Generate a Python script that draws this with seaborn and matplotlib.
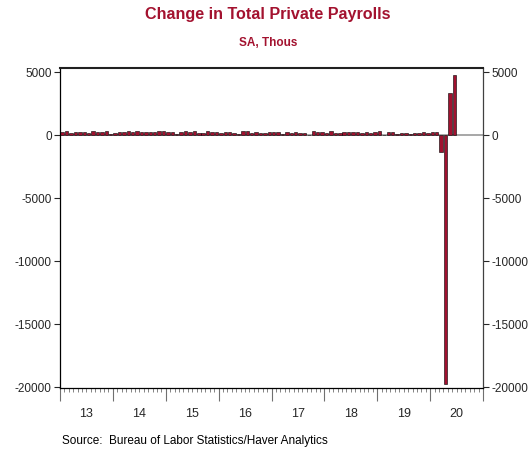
import numpy as np
import pandas as pd
import matplotlib
matplotlib.use("Agg")
import matplotlib.pyplot as plt
import seaborn as sns
from matplotlib.ticker import FixedLocator, FixedFormatter

# monthly change in private payrolls, thousands (Jan 2013 - Jun 2020)
vals_2013 = [190, 286, 130, 194, 212, 202, 140, 261, 192, 223, 270, 69]
vals_2014 = [173, 190, 221, 329, 231, 290, 236, 204, 255, 257, 324, 264]
vals_2015 = [196, 256, 84, 247, 321, 200, 262, 149, 162, 298, 233, 256]
vals_2016 = [127, 220, 207, 160, 33, 271, 279, 124, 223, 124, 156, 185]
vals_2017 = [207, 213, 86, 186, 143, 201, 179, 174, 19, 264, 212, 183]
vals_2018 = [175, 311, 164, 178, 257, 224, 188, 214, 114, 248, 172, 225]
vals_2019 = [298, 15, 183, 220, 81, 166, 146, 98, 143, 171, 224, 127]
vals_2020 = [206, 245, -1360, -19800, 3280, 4780]

year_labels = ["13", "14", "15", "16", "17", "18", "19", "20"]
y_ticks = [5000, 0, -5000, -10000, -15000, -20000]

values = (vals_2013 + vals_2014 + vals_2015 + vals_2016 + vals_2017
          + vals_2018 + vals_2019 + vals_2020)
months = pd.date_range("2013-01-01", periods=len(values), freq="MS").strftime("%Y-%m")
df = pd.DataFrame({"month": months, "change": values})

sns.set_style("white")
plt.rcParams["font.family"] = ["Liberation Sans", "DejaVu Sans"]

fig = plt.figure(figsize=(5.29, 4.52), dpi=100)
ax = fig.add_axes([60 / 529, 1 - 389 / 452, 423 / 529, 320 / 452])

red = "#a0112f"
sns.barplot(data=df, x="month", y="change", color=red, edgecolor="black",
            linewidth=0.4, width=0.78, saturation=1, ax=ax)
ax.axhline(0, color="#a0a0a0", lw=1.3, zorder=0)

n_months = 12 * len(year_labels)
ax.set_xlim(-0.5, n_months - 0.5)
ax.set_ylim(-20100, 5300)

# year boundaries = major ticks, months = minor ticks, year labels mid-year
major = [-0.5 + 12 * k for k in range(len(year_labels) + 1)]
minor = [-0.5 + k for k in range(n_months + 1) if k % 12 != 0]
minor_lab = [year_labels[k // 12] if k % 12 == 6 else "" for k in range(n_months + 1) if k % 12 != 0]
ax.xaxis.set_major_locator(FixedLocator(major))
ax.xaxis.set_major_formatter(FixedFormatter([""] * len(major)))
ax.xaxis.set_minor_locator(FixedLocator(minor))
ax.xaxis.set_minor_formatter(FixedFormatter(minor_lab))
ax.tick_params(axis="x", which="major", direction="out", length=9, width=0.8,
               color="#707070", bottom=True)
ax.tick_params(axis="x", which="minor", direction="out", length=3, width=0.6,
               color="#707070", bottom=True, labelsize=9, pad=11)

ax.set_yticks(y_ticks)
ax.set_yticklabels([str(t) for t in y_ticks])
ax.tick_params(axis="y", direction="out", length=4, width=0.8, left=True, right=True,
               labelleft=True, labelright=True, labelsize=8.5, pad=2)
ax.set_xlabel("")
ax.set_ylabel("")

for side in ["left", "bottom", "right"]:
    ax.spines[side].set_color("black")
    ax.spines[side].set_linewidth(0.9)
ax.spines["right"].set_color("#404040")
ax.spines["top"].set_color("#202020")
ax.spines["top"].set_linewidth(1.5)

fig.text(268 / 529, 1 - 15 / 452, "Change in Total Private Payrolls", ha="center", va="center",
         fontsize=11.6, fontweight="bold", color="#a3122f")
fig.text(268 / 529, 1 - 43 / 452, "SA, Thous", ha="center", va="center",
         fontsize=8.5, fontweight="bold", color="#a3122f")
fig.text(62 / 529, 1 - 441 / 452, "Source:  Bureau of Labor Statistics/Haver Analytics",
         ha="left", va="center", fontsize=8.5, color="black")

fig.savefig("out.png", dpi=100)
